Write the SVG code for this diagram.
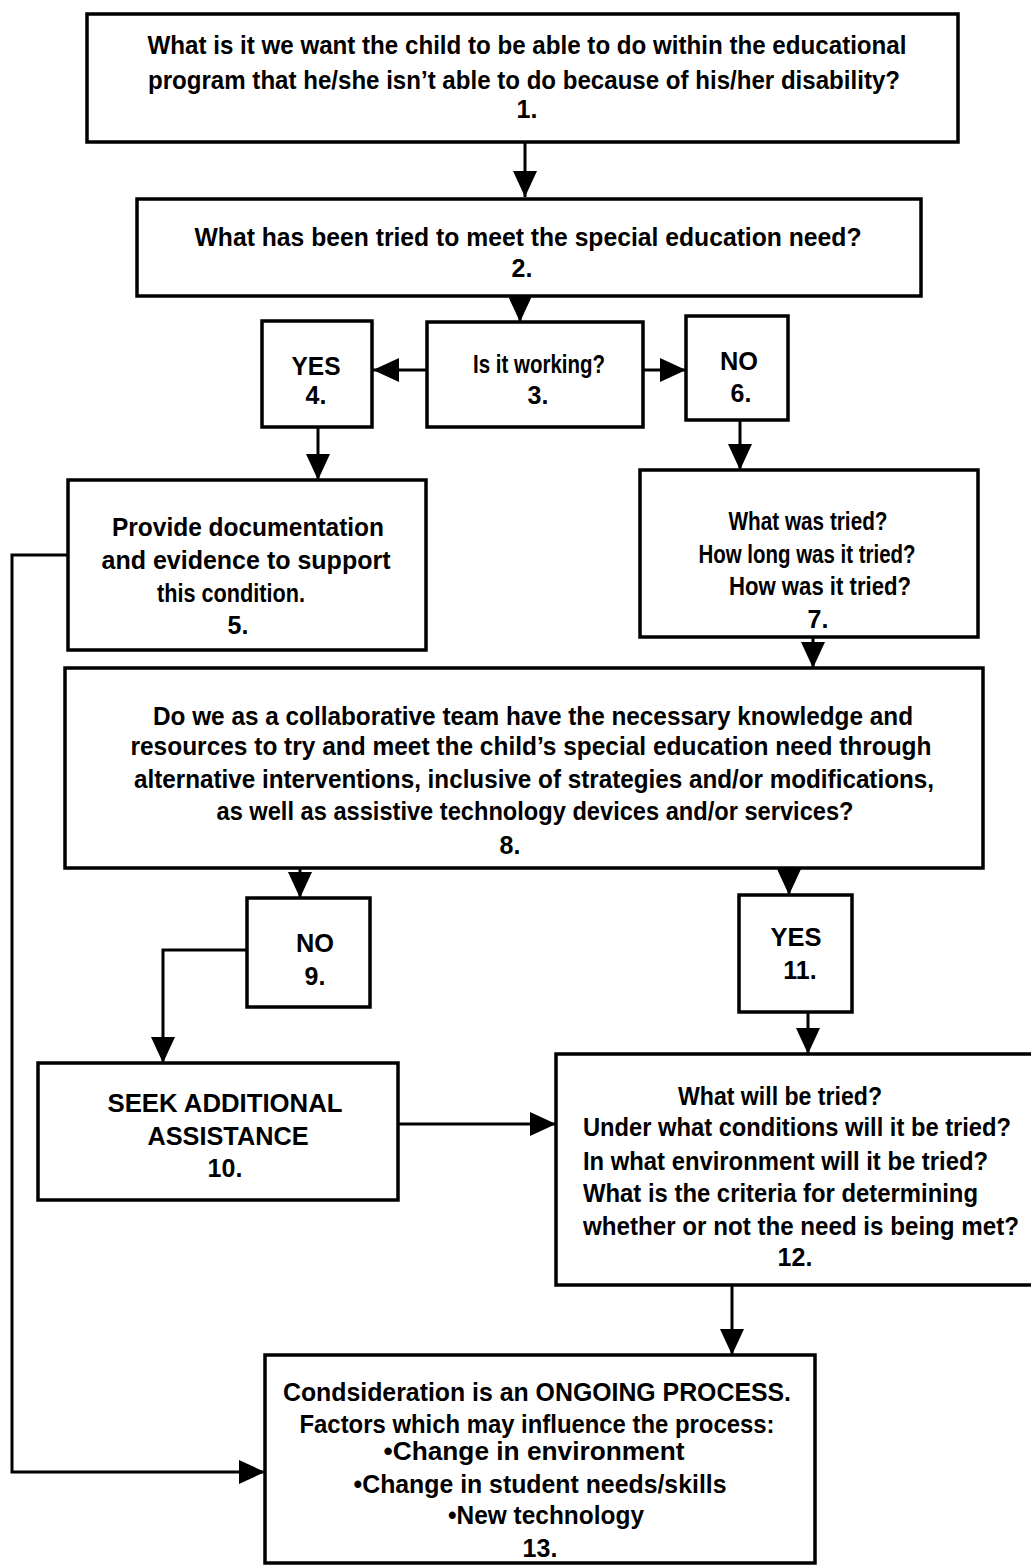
<svg xmlns="http://www.w3.org/2000/svg" width="1031" height="1566" viewBox="0 0 1031 1566">
<style>
.box{fill:#fff;stroke:#000;stroke-width:3.5}
.t{font-family:"Liberation Sans",Arial,Helvetica,sans-serif;font-size:25px;font-weight:bold;fill:#000;text-anchor:middle}
.l{text-anchor:start}
.c{fill:none;stroke:#000;stroke-width:3}
</style>
<defs>
<marker id="ah" markerUnits="userSpaceOnUse" markerWidth="28" markerHeight="24" refX="26" refY="12" orient="auto">
<path d="M0,0 L26,12 L0,24 z" fill="#000"/>
</marker>
</defs>
<rect width="1031" height="1566" fill="#fff"/>
<g id="connectors">
<path class="c" d="M525,142 V197" marker-end="url(#ah)"/>
<path class="c" d="M520,296 V322" marker-end="url(#ah)"/>
<path class="c" d="M427,370 H373" marker-end="url(#ah)"/>
<path class="c" d="M643,370 H686" marker-end="url(#ah)"/>
<path class="c" d="M318,427 V480" marker-end="url(#ah)"/>
<path class="c" d="M740,420 V470" marker-end="url(#ah)"/>
<path class="c" d="M813,637 V668" marker-end="url(#ah)"/>
<path class="c" d="M300,868 V898" marker-end="url(#ah)"/>
<path class="c" d="M789,866 V895" marker-end="url(#ah)"/>
<path class="c" d="M247,950 H163 V1063" marker-end="url(#ah)"/>
<path class="c" d="M808,1012 V1054" marker-end="url(#ah)"/>
<path class="c" d="M398,1124 H556" marker-end="url(#ah)"/>
<path class="c" d="M732,1285 V1355" marker-end="url(#ah)"/>
<path class="c" d="M68,555 H12 V1472 H265" marker-end="url(#ah)"/>
</g>
<g id="n1"><rect class="box" x="87" y="14" width="871" height="128"/>
<text class="t" x="527" y="54" textLength="759" lengthAdjust="spacingAndGlyphs">What is it we want the child to be able to do within the educational</text>
<text class="t" x="524" y="89" textLength="752" lengthAdjust="spacingAndGlyphs">program that he/she isn’t able to do because of his/her disability?</text>
<text class="t" x="527" y="118">1.</text></g>
<g id="n2"><rect class="box" x="137" y="199" width="784" height="97"/>
<text class="t" x="528" y="246" textLength="667" lengthAdjust="spacingAndGlyphs">What has been tried to meet the special education need?</text>
<text class="t" x="522" y="277">2.</text></g>
<g id="n3"><rect class="box" x="427" y="322" width="216" height="105"/>
<text class="t" x="539" y="373" textLength="132" lengthAdjust="spacingAndGlyphs">Is it working?</text>
<text class="t" x="538" y="404">3.</text></g>
<g id="n4"><rect class="box" x="262" y="321" width="110" height="106"/>
<text class="t" x="316" y="375" textLength="49" lengthAdjust="spacingAndGlyphs">YES</text>
<text class="t" x="316" y="404">4.</text></g>
<g id="n6"><rect class="box" x="686" y="316" width="102" height="104"/>
<text class="t" x="739" y="370" textLength="38" lengthAdjust="spacingAndGlyphs">NO</text>
<text class="t" x="741" y="402">6.</text></g>
<g id="n5"><rect class="box" x="68" y="480" width="358" height="170"/>
<text class="t" x="248" y="536" textLength="272" lengthAdjust="spacingAndGlyphs">Provide documentation</text>
<text class="t" x="246" y="569" textLength="289" lengthAdjust="spacingAndGlyphs">and evidence to support</text>
<text class="t" x="231" y="602" textLength="148" lengthAdjust="spacingAndGlyphs">this condition.</text>
<text class="t" x="238" y="634">5.</text></g>
<g id="n7"><rect class="box" x="640" y="470" width="338" height="167"/>
<text class="t" x="808" y="530" textLength="159" lengthAdjust="spacingAndGlyphs">What was tried?</text>
<text class="t" x="807" y="563" textLength="217" lengthAdjust="spacingAndGlyphs">How long was it tried?</text>
<text class="t" x="820" y="595" textLength="182" lengthAdjust="spacingAndGlyphs">How was it tried?</text>
<text class="t" x="818" y="628">7.</text></g>
<g id="n8"><rect class="box" x="65" y="668" width="918" height="200"/>
<text class="t" x="533" y="725" textLength="760" lengthAdjust="spacingAndGlyphs">Do we as a collaborative team have the necessary knowledge and</text>
<text class="t" x="531" y="755" textLength="801" lengthAdjust="spacingAndGlyphs">resources to try and meet the child’s special education need through</text>
<text class="t" x="534" y="788" textLength="800" lengthAdjust="spacingAndGlyphs">alternative interventions, inclusive of strategies and/or modifications,</text>
<text class="t" x="535" y="820" textLength="637" lengthAdjust="spacingAndGlyphs">as well as assistive technology devices and/or services?</text>
<text class="t" x="510" y="854">8.</text></g>
<g id="n9"><rect class="box" x="247" y="898" width="123" height="109"/>
<text class="t" x="315" y="952" textLength="38" lengthAdjust="spacingAndGlyphs">NO</text>
<text class="t" x="315" y="985">9.</text></g>
<g id="n11"><rect class="box" x="739" y="895" width="113" height="117"/>
<text class="t" x="796" y="946" textLength="51" lengthAdjust="spacingAndGlyphs">YES</text>
<text class="t" x="800" y="979">11.</text></g>
<g id="n10"><rect class="box" x="38" y="1063" width="360" height="137"/>
<text class="t" x="225" y="1112" textLength="235" lengthAdjust="spacingAndGlyphs">SEEK ADDITIONAL</text>
<text class="t" x="228" y="1145" textLength="161" lengthAdjust="spacingAndGlyphs">ASSISTANCE</text>
<text class="t" x="225" y="1177">10.</text></g>
<g id="n12"><rect class="box" x="556" y="1054" width="490" height="231"/>
<text class="t" x="780" y="1105" textLength="204" lengthAdjust="spacingAndGlyphs">What will be tried?</text>
<text class="t l" x="583" y="1136" textLength="428" lengthAdjust="spacingAndGlyphs">Under what conditions will it be tried?</text>
<text class="t l" x="583" y="1170" textLength="405" lengthAdjust="spacingAndGlyphs">In what environment will it be tried?</text>
<text class="t l" x="583" y="1202" textLength="395" lengthAdjust="spacingAndGlyphs">What is the criteria for determining</text>
<text class="t l" x="583" y="1235" textLength="436" lengthAdjust="spacingAndGlyphs">whether or not the need is being met?</text>
<text class="t" x="795" y="1266">12.</text></g>
<g id="n13"><rect class="box" x="265" y="1355" width="550" height="208"/>
<text class="t" x="537" y="1401" textLength="508" lengthAdjust="spacingAndGlyphs">Condsideration is an ONGOING PROCESS.</text>
<text class="t" x="537" y="1433" textLength="475" lengthAdjust="spacingAndGlyphs">Factors which may influence the process:</text>
<text class="t" x="534" y="1460" textLength="301" lengthAdjust="spacingAndGlyphs">•Change in environment</text>
<text class="t" x="540" y="1493" textLength="373" lengthAdjust="spacingAndGlyphs">•Change in student needs/skills</text>
<text class="t" x="546" y="1524" textLength="196" lengthAdjust="spacingAndGlyphs">•New technology</text>
<text class="t" x="540" y="1557">13.</text></g>
</svg>
